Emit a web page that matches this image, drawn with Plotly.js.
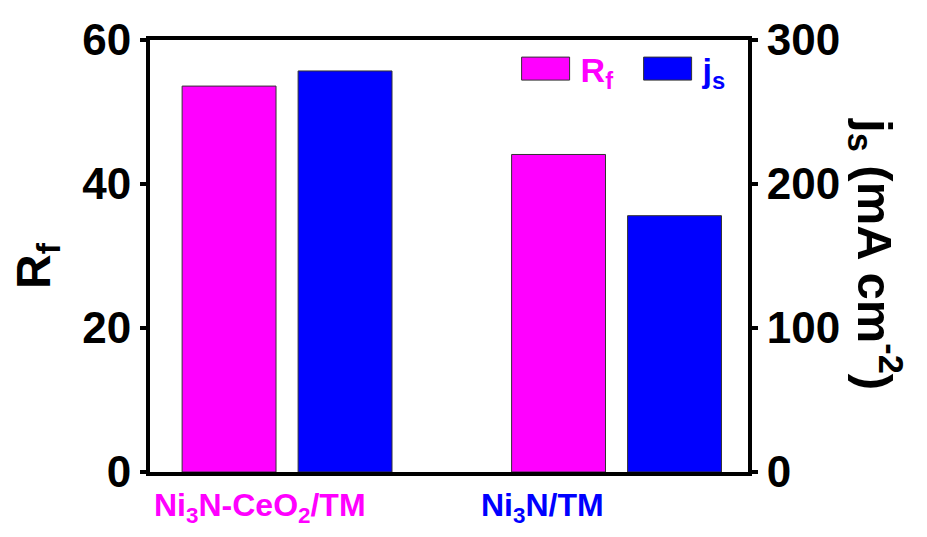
<!DOCTYPE html>
<html>
<head>
<meta charset="utf-8">
<script src="https://cdn.plot.ly/plotly-3.0.1.min.js"></script>
<style>html,body{margin:0;padding:0;background:#fff;}#chart{width:927px;height:537px;}</style>
</head>
<body>
<div id="chart"></div>
<script>
// ---- data ----
const categories = ["Ni3N-CeO2/TM", "Ni3N/TM"];
const categoryLabels = ["Ni<sub>3</sub>N-CeO<sub>2</sub>/TM", "Ni<sub>3</sub>N/TM"];
const labelColors = ["#FF00FF", "#0000FF"];
const rfValues = [53.6, 44.1];      // R_f (left axis)
const jsValues = [278.5, 178.0];    // j_s, mA cm^-2 (right axis)
const seriesNames = ["R<sub>f</sub>", "j<sub>s</sub>"];
const leftTicks = [0, 20, 40, 60];
const rightTicks = [0, 100, 200, 300];

const F = "Liberation Sans, Arial, sans-serif";

const traces = [
  {
    type: "bar", x: categories, y: rfValues, yaxis: "y",
    name: '<span style="color:#FF00FF">' + seriesNames[0] + '</span>',
    width: 0.285, offset: -0.3185,
    marker: {color: "#FF00FF", line: {color: "#333333", width: 1}}
  },
  {
    type: "bar", x: categories, y: jsValues, yaxis: "y2",
    name: '<span style="color:#0000FF">' + seriesNames[1] + '</span>',
    width: 0.285, offset: 0.0335,
    marker: {color: "#0000FF", line: {color: "#333333", width: 1}}
  }
];

const annotations = categories.map((c, i) => ({
  xref: "x", yref: "paper",
  x: i + (i === 0 ? -0.082 : -0.226), y: 0,
  yanchor: "top", xanchor: "center", yshift: -13,
  showarrow: false,
  text: '<b>' + categoryLabels[i] + '</b>',
  font: {family: F, size: 32, color: labelColors[i]}
}));
annotations.push({
  xref: "paper", yref: "paper", x: 1, y: 0.5, xshift: 128, yshift: 2,
  xanchor: "center", yanchor: "middle", showarrow: false, textangle: 90,
  text: "<b>j<sub>s</sub> (mA cm<sup>-2</sup>)</b>",
  font: {family: F, size: 49, color: "#000"}
});
annotations.push({
  xref: "paper", yref: "paper", x: 0, y: 0.5, xshift: -113, yshift: -10,
  xanchor: "center", yanchor: "middle", showarrow: false, textangle: -90,
  text: "<b>R<sub>f</sub></b>",
  font: {family: F, size: 48, color: "#000"}
});

const layout = {
  width: 927, height: 537,
  margin: {l: 150, r: 179, t: 40, b: 65},
  paper_bgcolor: "#fff", plot_bgcolor: "#fff",
  showlegend: true,
  legend: {
    orientation: "h", x: 0.603, y: 1.0, xanchor: "left", yanchor: "top",
    bgcolor: "rgba(0,0,0,0)", font: {family: F, size: 34, color: "#000", weight: "bold"},
    itemwidth: 60, entrywidth: 47, entrywidthmode: "pixels", traceorder: "normal"
  },
  xaxis: {
    type: "category", range: [-0.416, 1.399],
    showline: true, linewidth: 4, linecolor: "#000", mirror: true,
    ticks: "", showticklabels: false, showgrid: false, zeroline: false,
    fixedrange: true
  },
  yaxis: {
    range: [0, 60], tickvals: leftTicks, ticktext: leftTicks.map(String),
    showline: true, linewidth: 4, linecolor: "#000",
    ticks: "outside", ticklen: 6, tickwidth: 4, tickcolor: "#000",
    showgrid: false, zeroline: false,
    tickfont: {family: F, size: 44, color: "#000", weight: "bold"}
  },
  yaxis2: {
    overlaying: "y", side: "right", range: [0, 300],
    tickvals: rightTicks, ticktext: rightTicks.map(String),
    showline: true, linewidth: 4, linecolor: "#000",
    ticks: "outside", ticklen: 6, tickwidth: 4, tickcolor: "#000",
    showgrid: false, zeroline: false,
    tickfont: {family: F, size: 44, color: "#000", weight: "bold"}
  },
  annotations: annotations
};

Plotly.newPlot("chart", traces, layout, {displayModeBar: false, staticPlot: true}).then(gd => {
  // widen legend swatches to the reference's rectangles
  gd.querySelectorAll(".legendpoints path").forEach(p => {
    p.setAttribute("d", "M-24,-11.5H24V11.5H-24Z");
  });
});
</script>
</body>
</html>
